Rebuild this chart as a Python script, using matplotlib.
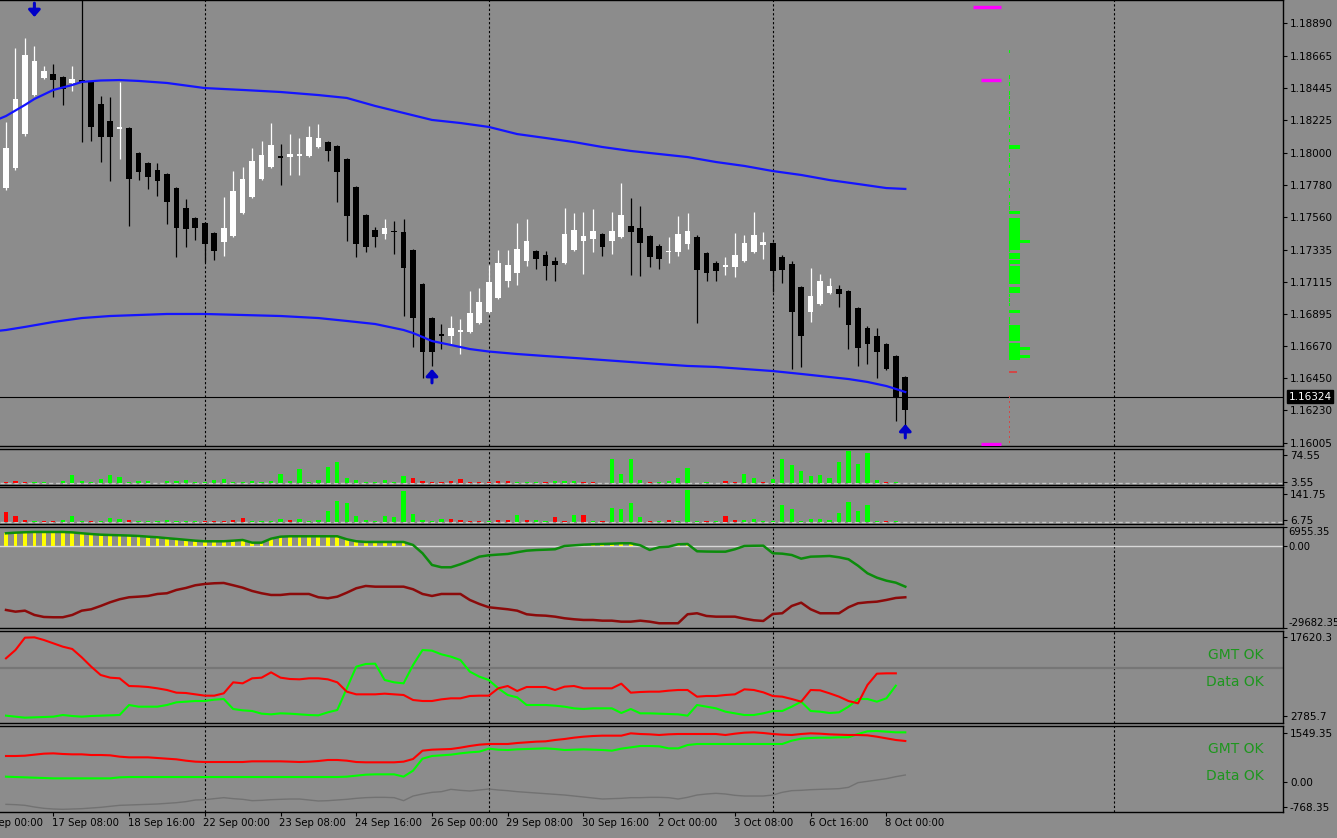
import numpy as np
import pandas as pd
import matplotlib
matplotlib.use("Agg")
import matplotlib.pyplot as plt

# H4 bars, weekdays only; times[0] is bar index -3 (16 Sep 00:00)
times = [t for t in pd.date_range("2025-09-16 00:00", "2025-10-08 08:00", freq="4h") if t.weekday() < 5]
FIRST_BAR = -3

# EURUSD H4 candles, bar index -1 .. 95
opens = [1.17676, 1.17758, 1.17896, 1.18129, 1.18397, 1.18514, 1.18542, 1.18521, 1.18480, 1.18500,
         1.18487, 1.18336, 1.18219, 1.18164, 1.18171, 1.17999, 1.17930, 1.17882, 1.17855, 1.17758,
         1.17621, 1.17552, 1.17518, 1.17449, 1.17387, 1.17429, 1.17587, 1.17697, 1.17820, 1.17903,
         1.17978, 1.17971, 1.17978, 1.17978, 1.18040, 1.18074, 1.18047, 1.17958, 1.17765, 1.17573,
         1.17470, 1.17442, 1.17463, 1.17456, 1.17332, 1.17099, 1.16865, 1.16752, 1.16744, 1.16769,
         1.16771, 1.16829, 1.16904, 1.17005, 1.17120, 1.17172, 1.17257, 1.17328, 1.17298, 1.17257,
         1.17241, 1.17332, 1.17396, 1.17408, 1.17440, 1.17396, 1.17424, 1.17499, 1.17482, 1.17431,
         1.17360, 1.17317, 1.17317, 1.17374, 1.17420, 1.17310, 1.17245, 1.17214, 1.17214, 1.17257,
         1.17317, 1.17369, 1.17379, 1.17286, 1.17236, 1.17076, 1.16909, 1.16959, 1.17039, 1.17062,
         1.17051, 1.16936, 1.16795, 1.16742, 1.16687, 1.16604, 1.16462]
highs = [1.17882, 1.18212, 1.18720, 1.18789, 1.18734, 1.18597, 1.18610, 1.18530, 1.18597, 1.19180,
         1.18495, 1.18390, 1.18384, 1.18487, 1.18180, 1.18005, 1.17935, 1.17930, 1.17860, 1.17765,
         1.17683, 1.17560, 1.17525, 1.17455, 1.17697, 1.17875, 1.17903, 1.18033, 1.18081, 1.18205,
         1.18061, 1.18129, 1.18102, 1.18184, 1.18198, 1.18080, 1.18054, 1.17965, 1.17772, 1.17580,
         1.17491, 1.17545, 1.17532, 1.17545, 1.17340, 1.17105, 1.16870, 1.16824, 1.16881, 1.16858,
         1.17051, 1.17074, 1.17229, 1.17332, 1.17332, 1.17516, 1.17545, 1.17332, 1.17326, 1.17282,
         1.17619, 1.17589, 1.17596, 1.17614, 1.17446, 1.17592, 1.17791, 1.17688, 1.17635, 1.17438,
         1.17372, 1.17420, 1.17568, 1.17589, 1.17436, 1.17316, 1.17257, 1.17286, 1.17447, 1.17436,
         1.17596, 1.17454, 1.17385, 1.17298, 1.17259, 1.17082, 1.17211, 1.17168, 1.17142, 1.17092,
         1.17057, 1.16942, 1.16812, 1.16795, 1.16693, 1.16610, 1.16468]
lows = [1.17655, 1.17745, 1.17882, 1.18115, 1.18390, 1.18505, 1.18384, 1.18329, 1.18425, 1.18074,
        1.18081, 1.17937, 1.17807, 1.17958, 1.17497, 1.17813, 1.17752, 1.17703, 1.17511, 1.17284,
        1.17353, 1.17401, 1.17250, 1.17264, 1.17291, 1.17420, 1.17580, 1.17690, 1.17813, 1.17896,
        1.17779, 1.17848, 1.17848, 1.17970, 1.18033, 1.17944, 1.17662, 1.17394, 1.17284, 1.17319,
        1.17353, 1.17408, 1.17305, 1.16879, 1.16666, 1.16453, 1.16536, 1.16652, 1.16687, 1.16618,
        1.16765, 1.16822, 1.16897, 1.16998, 1.17080, 1.17092, 1.17225, 1.17202, 1.17126, 1.17122,
        1.17235, 1.17325, 1.17168, 1.17321, 1.17293, 1.17303, 1.17417, 1.17161, 1.17154, 1.17214,
        1.17202, 1.17241, 1.17293, 1.17339, 1.16829, 1.17122, 1.17122, 1.17161, 1.17149, 1.17250,
        1.17310, 1.17269, 1.17046, 1.17104, 1.16513, 1.16527, 1.16836, 1.16952, 1.17032, 1.16943,
        1.16650, 1.16536, 1.16549, 1.16451, 1.16508, 1.16160, 1.16101]
closes = [1.17868, 1.18033, 1.18370, 1.18672, 1.18631, 1.18562, 1.18500, 1.18439, 1.18507, 1.18487,
          1.18178, 1.18109, 1.18109, 1.18178, 1.17820, 1.17868, 1.17834, 1.17807, 1.17662, 1.17484,
          1.17477, 1.17484, 1.17374, 1.17326, 1.17484, 1.17738, 1.17820, 1.17944, 1.17985, 1.18054,
          1.17965, 1.17992, 1.17992, 1.18109, 1.18102, 1.18013, 1.17868, 1.17566, 1.17374, 1.17353,
          1.17422, 1.17484, 1.17456, 1.17209, 1.16865, 1.16632, 1.16632, 1.16745, 1.16795, 1.16783,
          1.16902, 1.16973, 1.17111, 1.17245, 1.17229, 1.17339, 1.17394, 1.17271, 1.17223, 1.17229,
          1.17440, 1.17470, 1.17429, 1.17463, 1.17355, 1.17463, 1.17573, 1.17458, 1.17379, 1.17286,
          1.17269, 1.17328, 1.17440, 1.17463, 1.17195, 1.17177, 1.17188, 1.17227, 1.17298, 1.17379,
          1.17436, 1.17385, 1.17190, 1.17195, 1.16909, 1.16744, 1.17016, 1.17122, 1.17085, 1.17028,
          1.16817, 1.16657, 1.16685, 1.16634, 1.16515, 1.16321, 1.16233]
bid = 1.16324

# envelope lines (read at these bars)
upper_bars = [-1, 0, 2, 3, 5, 7, 8, 10, 12, 14, 17, 21, 25, 29, 33, 36, 39, 42, 45, 48, 51, 54,
              57, 60, 63, 66, 69, 72, 75, 78, 81, 84, 87, 90, 93, 95]
upper_vals = [1.18226, 1.18253, 1.18329, 1.18370, 1.18432, 1.18466, 1.18487, 1.18497, 1.18500,
              1.18494, 1.18480, 1.18445, 1.18432, 1.18418, 1.18397, 1.18377, 1.18322, 1.18274,
              1.18226, 1.18205, 1.18178, 1.18129, 1.18102, 1.18074, 1.18040, 1.18013, 1.17992,
              1.17971, 1.17937, 1.17910, 1.17875, 1.17848, 1.17813, 1.17786, 1.17758, 1.17752]
lower_bars = [-1, 0, 2, 5, 8, 11, 14, 17, 21, 25, 29, 33, 36, 39, 42, 43, 44, 45, 47, 49, 51, 54,
              57, 60, 63, 66, 69, 72, 75, 78, 81, 84, 87, 89, 91, 93, 94, 95]
lower_vals = [1.16776, 1.16783, 1.16804, 1.16838, 1.16865, 1.16879, 1.16886, 1.16893, 1.16893,
              1.16886, 1.16879, 1.16865, 1.16845, 1.16824, 1.16783, 1.16762, 1.16735, 1.16707,
              1.16680, 1.16652, 1.16635, 1.16618, 1.16604, 1.16591, 1.16577, 1.16563, 1.16549,
              1.16536, 1.16529, 1.16515, 1.16501, 1.16481, 1.16460, 1.16446, 1.16426, 1.16398,
              1.16378, 1.16357]

# signal arrows
sig_up_bars = [45, 95]
sig_up_price = [1.16515, 1.16137]
sig_dn_bars = [3]
sig_dn_price = [1.18933]

# market profile on the right
prof_price = [1.18693, 1.18521, 1.18473, 1.18411, 1.18377, 1.18342, 1.18308, 1.18274, 1.18239, 1.18184,
              1.18136, 1.18088, 1.18040, 1.17985, 1.17951, 1.17903, 1.17848, 1.17793, 1.17745, 1.17697,
              1.17655, 1.17621, 1.17587, 1.17539, 1.17518, 1.17497, 1.17477, 1.17456, 1.17429, 1.17408,
              1.17394, 1.17367, 1.17346, 1.17332, 1.17298, 1.17278, 1.17250, 1.17223, 1.17209, 1.17188,
              1.17168, 1.17147, 1.17126, 1.17106, 1.17071, 1.17051, 1.17023, 1.16989, 1.16955, 1.16907,
              1.16865, 1.16838, 1.16804, 1.16783, 1.16762, 1.16742, 1.16721, 1.16680, 1.16659, 1.16639,
              1.16618, 1.16604, 1.16584]
prof_count = [1, 1, 1, 1, 1, 1, 1, 1, 1, 1,
              1, 1, 10, 1, 1, 1, 1, 1, 1, 1,
              1, 1, 10, 10, 10, 10, 10, 10, 10, 10,
              20, 10, 10, 1, 10, 10, 10, 1, 10, 10,
              10, 10, 10, 10, 10, 10, 1, 1, 1, 10,
              1, 1, 10, 10, 10, 10, 10, 10, 20, 10,
              10, 20, 10]
prof_red_price = [1.16494, 1.16323, 1.16288, 1.16254, 1.16220, 1.16185, 1.16151, 1.16117, 1.16082,
                  1.16048, 1.16013]
prof_red_count = [7, 1, 1, 1, 1, 1, 1, 1, 1, 1, 1]
mag_price = [1.19002, 1.18500, 1.15999]
mag_width = [3.0, 2.1, 2.1]

# sub-window 1 and 2 histograms (negative = red bar)
vol1 = [-3, -5, -4, 3, 3, 1, 5, 21, 5, 3,
        11, 21, 16, 3, 5, 5, 1, 5, 5, 9,
        2, 2, 9, 11, 3, 3, 5, 3, 5, 24,
        5, 37, 3, 9, 42, 55, 14, 9, 3, 3,
        9, 3, 19, -14, -6, -3, -2, -6, -11, -3,
        -3, -2, -6, -6, 3, 3, 3, -3, 5, 5,
        5, -3, -3, 1, 63, 24, 63, 8, -3, 3,
        5, 14, 39, 1, 3, 1, -6, -3, 24, 14,
        -3, 11, 64, 47, 31, 19, 21, 14, 56, 85,
        51, 81, 9, -3, 3, 1]
vol2 = [-51, -29, -8, 2, -2, -3, 8, 29, 2, -3,
        3, 17, 12, -8, 3, 2, 2, 8, 5, 5,
        2, -2, -3, -2, -8, -20, 2, 2, 3, 12,
        -8, 12, 2, 8, 54, 105, 93, 29, 8, 3,
        29, 22, 155, 37, 8, 2, 12, -13, -8, -3,
        -3, 2, -8, -8, 34, -8, 8, 3, -22, -3,
        34, -34, 2, -3, 71, 66, 93, 25, -3, 2,
        -8, 2, 160, 2, -3, 2, -29, -8, 8, 15,
        2, 3, 84, 66, 3, 15, 15, 8, 46, 101,
        56, 84, 3, -3, 3, 1]

# sub-window 3
hist3 = [4679, 4900, 5041, 5150, 5150, 5150, 5150, 5000, 4679, 4400,
         4171, 4050, 3953, 3850, 3700, 3450, 3228, 2900, 2611, 2300,
         1995, 1777, 1777, 1777, 2000, 2249, 1270, 1270, 2720, 3446,
         3591, 3591, 3591, 3591, 3591, 3591, 2503, 1777, 1523, 1523,
         1523, 1523, 1523, 435, -2575, -6819, -7653, -7653, -6565, -5259,
         -3808, -3301, -3050, -2829, -2200, -1632, -1400, -1269, -1124, 73,
         300, 544, 700, 798, 900, 1052, 1052, 326, -1378, -399,
         -181, 689, 798, -1850, -1950, -1995, -1995, -1124, 73, 150,
         181, -2575, -2720, -3192, -4534, -3808, -3700, -3554, -4026, -4751,
         -7073, -9829, -11425, -12513, -13238, -14689]
red3 = [-23140, -23757, -23394, -24954, -25680, -25788, -25788, -24954, -23394, -22886,
        -21689, -20347, -19259, -18534, -18316, -18062, -17337, -17083, -15886, -15161,
        -14182, -13710, -13456, -13347, -14182, -15052, -16249, -17083, -17700, -17700,
        -17337, -17337, -17337, -18534, -18897, -18316, -16865, -15270, -14435, -14689,
        -14689, -14689, -14689, -15632, -17337, -18062, -17337, -17337, -17337, -19513,
        -20964, -22161, -22524, -22886, -23394, -24700, -25063, -25208, -25570, -26151,
        -26514, -26768, -26768, -27021, -27021, -27384, -27384, -27021, -27384, -27964,
        -27964, -27964, -24700, -24337, -25317, -25570, -25570, -25570, -26296, -26876,
        -27130, -24591, -24337, -21689, -20492, -22886, -24337, -24337, -24337, -22161,
        -20710, -20347, -20130, -19513, -18788, -18534]

# sub-window 4 (bars 0..94)
red4 = [13614, 15179, 17495, 17558, 17057, 16431, 15805, 15367, 13802, 12049,
        10484, 9983, 9858, 8418, 8356, 8230, 7980, 7667, 7166, 7104,
        6853, 6603, 6603, 7041, 9107, 8919, 9858, 9983, 10985, 9983,
        9733, 9670, 9858, 9858, 9670, 9107, 7354, 6853, 6853, 6853,
        6978, 6853, 6728, 5789, 5601, 5601, 5914, 6102, 6102, 6540,
        6603, 6603, 7980, 8418, 7479, 8230, 8230, 8230, 7667, 8293,
        8418, 7980, 7980, 7980, 7980, 8856, 7166, 7291, 7354, 7354,
        7542, 7667, 7667, 6415, 6540, 6540, 6728, 6853, 7792, 7667,
        7229, 6540, 6415, 5977, 5476, 7667, 7604, 7041, 6415, 5601,
        5163, 8606, 10734, 10797, 10797]
green4 = [2847, 2659, 2471, 2534, 2596, 2659, 2972, 2784, 2659, 2784,
          2847, 2909, 2972, 4848, 4537, 4537, 4537, 4850, 5351, 5476,
          5601, 5601, 5851, 5977, 4099, 3848, 3723, 3222, 3097, 3285,
          3222, 3097, 2972, 2909, 3472, 3911, 7980, 12049, 12550, 12612,
          9545, 9107, 8919, 12362, 15179, 15054, 14365, 13927, 13301, 11110,
          10171, 9545, 7980, 6728, 6290, 4850, 4850, 4850, 4725, 4537,
          4224, 4099, 4224, 4224, 4224, 3347, 4099, 3285, 3285, 3222,
          3159, 3097, 2847, 4850, 4537, 4224, 3598, 3285, 2972, 2972,
          3285, 3723, 3723, 4537, 5476, 3723, 3598, 3347, 3472, 4537,
          5977, 5977, 5476, 6102, 8481]
level4 = 11800

# sub-window 5
red5 = [829, 829, 839, 871, 902, 912, 892, 881, 881, 860,
        860, 850, 808, 787, 787, 787, 766, 745, 725, 683,
        652, 641, 641, 641, 641, 641, 662, 662, 662, 662,
        652, 641, 652, 672, 704, 704, 683, 641, 631, 631,
        631, 631, 652, 735, 996, 1027, 1038, 1048, 1090, 1142,
        1184, 1205, 1205, 1205, 1236, 1257, 1278, 1288, 1330, 1361,
        1403, 1434, 1455, 1466, 1466, 1466, 1539, 1518, 1508, 1487,
        1508, 1518, 1518, 1518, 1518, 1518, 1487, 1528, 1560, 1570,
        1549, 1518, 1497, 1487, 1518, 1539, 1528, 1508, 1497, 1487,
        1487, 1476, 1434, 1382, 1330, 1299]
green5 = [182, 171, 161, 150, 140, 129, 129, 129, 129, 129,
          129, 129, 161, 171, 171, 171, 171, 171, 171, 171,
          171, 171, 171, 171, 171, 171, 171, 171, 171, 171,
          171, 171, 171, 171, 171, 171, 182, 213, 244, 255,
          255, 255, 182, 370, 746, 829, 850, 871, 912, 944,
          965, 1059, 1027, 1017, 1038, 1048, 1059, 1069, 1048, 1017,
          1027, 1038, 1027, 1017, 996, 1059, 1100, 1142, 1142, 1132,
          1069, 1069, 1173, 1205, 1205, 1205, 1205, 1205, 1205, 1205,
          1205, 1205, 1205, 1309, 1372, 1393, 1403, 1403, 1414, 1414,
          1518, 1602, 1612, 1591, 1570, 1570]
grey5 = [-685, -695, -716, -768, -810, -831, -841, -831, -821, -800,
         -779, -747, -716, -706, -695, -685, -674, -654, -633, -601,
         -549, -539, -507, -476, -507, -528, -570, -560, -539, -528,
         -518, -518, -549, -580, -570, -549, -528, -497, -476, -466,
         -466, -476, -570, -424, -361, -309, -288, -215, -246, -267,
         -236, -205, -236, -257, -288, -309, -330, -351, -372, -393,
         -424, -455, -487, -518, -507, -497, -476, -476, -466, -466,
         -476, -518, -466, -393, -361, -340, -361, -403, -424, -424,
         -424, -393, -309, -257, -246, -226, -215, -205, -194, -153,
         -6, 35, 77, 119, 182, 234]

price_ticks = [1.18890, 1.18665, 1.18445, 1.18225, 1.18000, 1.17780, 1.17560, 1.17335,
               1.17115, 1.16895, 1.16670, 1.16450, 1.16230, 1.16005]
grid_bars = [21, 51, 81, 117]

BG = "#8c8c8c"
FW, FH = 1337.0, 838.0
PLOT_W = 1283.0
XLIM = (-0.634, 134.9)

fig = plt.figure(figsize=(13.37, 8.38), dpi=100, facecolor=BG)


def panel(top, bottom, ylim):
    ax = fig.add_axes([0, 1 - bottom / FH, PLOT_W / FW, (bottom - top) / FH])
    ax.set_facecolor(BG)
    ax.set_xlim(*XLIM)
    ax.set_ylim(*ylim)
    for side in ("top", "bottom", "right"):
        ax.spines[side].set_color("black")
        ax.spines[side].set_linewidth(1.0)
    ax.spines["left"].set_visible(False)
    ax.yaxis.tick_right()
    ax.tick_params(axis="y", direction="out", length=3, width=0.8, pad=2,
                   labelsize=7.5, colors="black")
    ax.set_xticks([])
    for k in grid_bars:
        ax.axvline(k, color="black", lw=0.8, ls=(0, (2, 2)), zorder=1)
    return ax


def set_ticks(ax, vals, labels):
    ax.set_yticks(vals)
    ax.set_yticklabels(labels)


# ---- main chart ----
ax = panel(0, 446, (1.15986, 1.19050))
cx = np.arange(-1, 96)
o, h, l, c = map(np.array, (opens, highs, lows, closes))
col = np.where(c >= o, "white", "black")
ax.vlines(cx, l, h, colors=col, lw=0.9, zorder=3)
body_h = np.maximum(np.abs(c - o), 0.00008)
body_mid = (o + c) / 2
ax.bar(cx, body_h, bottom=body_mid - body_h / 2, width=0.6, color=col, lw=0, zorder=4)

ax.plot(upper_bars, upper_vals, color="#1414ff", lw=1.6, zorder=5)
ax.plot(lower_bars, lower_vals, color="#1414ff", lw=1.6, zorder=5)
ax.axhline(bid, color="black", lw=0.8, zorder=2)

for k, p in zip(sig_dn_bars, sig_dn_price):
    ax.annotate("", xy=(k, p), xytext=(0, 10), textcoords="offset points",
                arrowprops=dict(arrowstyle="-|>,head_width=0.35,head_length=0.4",
                                color="#0000c8", lw=2.2, shrinkA=0, shrinkB=0), zorder=6)
for k, p in zip(sig_up_bars, sig_up_price):
    ax.annotate("", xy=(k, p), xytext=(0, -10), textcoords="offset points",
                arrowprops=dict(arrowstyle="-|>,head_width=0.35,head_length=0.4",
                                color="#0000c8", lw=2.2, shrinkA=0, shrinkB=0), zorder=6)

prof_base = 106.0
prof_scale = 0.11
ax.barh(prof_price, np.array(prof_count) * prof_scale, left=prof_base, height=0.00021,
        color="#00ff00", lw=0, zorder=3)
ax.barh(prof_red_price, np.array(prof_red_count) * prof_scale, left=prof_base, height=0.00013,
        color="#d04848", lw=0, zorder=3)
mag_end = 105.1
ax.hlines(mag_price, mag_end - np.array(mag_width), mag_end, color="#ff00ff", lw=2.4, zorder=3)

set_ticks(ax, price_ticks, [f"{p:.5f}" for p in price_ticks])
ax.annotate(f"{bid:.5f}", xy=(1, bid), xycoords=("axes fraction", "data"),
            xytext=(4, 0), textcoords="offset points", va="center", ha="left",
            fontsize=7.5, color="white", annotation_clip=False,
            bbox=dict(boxstyle="square,pad=0.15", fc="black", ec="black"))

bars = np.arange(96)

# ---- sub-window 1 ----
ax1 = panel(449, 485, (-5.3, 90.4))
v1 = np.array(vol1)
ax1.bar(bars, np.abs(v1), width=0.45, color=np.where(v1 > 0, "#00ff00", "#ff0000"), lw=0, zorder=3)
ax1.axhline(0, color="#c8c8c8", lw=1, ls=(0, (3, 2)), zorder=2)
set_ticks(ax1, [74.55, 3.55], ["74.55", "3.55"])

# ---- sub-window 2 ----
ax2 = panel(487, 524, (-11.6, 175.6))
v2 = np.array(vol2)
ax2.bar(bars, np.abs(v2), width=0.45, color=np.where(v2 > 0, "#00ff00", "#ff0000"), lw=0, zorder=3)
ax2.axhline(0, color="#c8c8c8", lw=1, ls=(0, (3, 2)), zorder=2)
set_ticks(ax2, [141.75, 6.75], ["141.75", "6.75"])

# ---- sub-window 3 ----
ax3 = panel(527, 628, (-29682.35, 6955.35))
hv = np.array(hist3)
ax3.axhline(0, color="#d8d8d8", lw=1, zorder=2)
ax3.bar(bars, np.clip(hv, 0, None), width=0.4, color="#ffff00", lw=0, zorder=3)
ax3.plot(bars, hist3, color="#0c8c0c", lw=1.8, zorder=4)
ax3.plot(bars, red3, color="#8b0a0a", lw=1.8, zorder=4)
set_ticks(ax3, [6955.35, 0.0, -29682.35], ["6955.35", "0.00", "-29682.35"])
ax3.tick_params(axis="y", pad=0.8, labelsize=7.2)
tl = ax3.get_yticklabels()
tl[0].set_va("top")
tl[2].set_va("bottom")

# ---- sub-window 4 ----
ax4 = panel(631, 723, (1469.5, 18747))
b4 = np.arange(95)
ax4.axhline(level4, color="#767676", lw=1.6, zorder=2)
ax4.plot(b4, green4, color="#00ff00", lw=1.5, zorder=3)
ax4.plot(b4, red4, color="#ff0000", lw=1.5, zorder=4)
set_ticks(ax4, [17620.3, 2785.7], ["17620.3", "2785.7"])
ax4.text(0.985, 0.74, "GMT OK", transform=ax4.transAxes, ha="right", va="center",
         color="#1e961e", fontsize=10)
ax4.text(0.985, 0.445, "Data OK", transform=ax4.transAxes, ha="right", va="center",
         color="#1e961e", fontsize=10)

# ---- sub-window 5 ----
ax5 = panel(726, 812, (-924.9, 1768.6))
ax5.plot(bars, grey5, color="#727272", lw=1.0, zorder=3)
ax5.plot(bars, green5, color="#00ff00", lw=1.5, zorder=3)
ax5.plot(bars, red5, color="#ff0000", lw=1.5, zorder=4)
set_ticks(ax5, [1549.35, 0.0, -768.35], ["1549.35", "0.00", "-768.35"])
ax5.text(0.985, 0.733, "GMT OK", transform=ax5.transAxes, ha="right", va="center",
         color="#1e961e", fontsize=10)
ax5.text(0.985, 0.42, "Data OK", transform=ax5.transAxes, ha="right", va="center",
         color="#1e961e", fontsize=10)

# time axis
label_bars = list(range(FIRST_BAR, 96, 8))
ax5.set_xticks([k for k in label_bars if k >= XLIM[0]])
ax5.tick_params(axis="x", direction="out", length=3, width=0.8, labelbottom=False)
for k in label_bars:
    t = times[k - FIRST_BAR]
    ax5.annotate(t.strftime("%d %b %H:%M").lstrip("0"), xy=(k, 0),
                 xycoords=("data", "axes fraction"), xytext=(-1, -4),
                 textcoords="offset points", ha="left", va="top", fontsize=7.3,
                 color="black", annotation_clip=False)

fig.savefig("out.png", dpi=100, facecolor=BG)
